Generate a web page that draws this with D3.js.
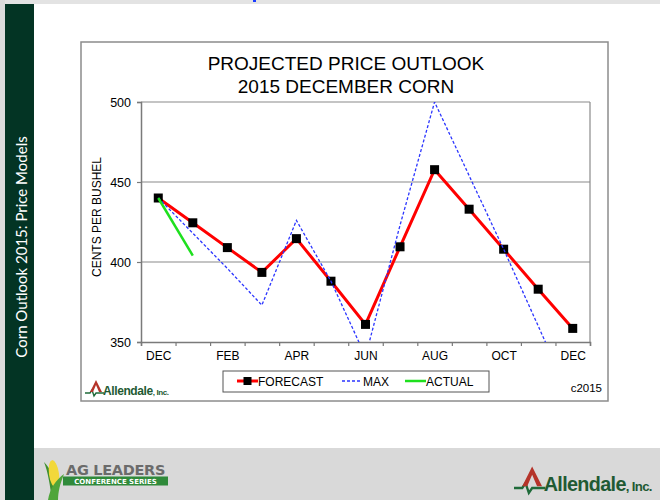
<!DOCTYPE html>
<html>
<head>
<meta charset="utf-8">
<script src="https://cdn.jsdelivr.net/npm/d3@7"></script>
<style>
  html, body { margin: 0; padding: 0; background: #fff; }
  svg { display: block; }
</style>
</head>
<body>
<script>
// chart values
var months = ["DEC", "JAN", "FEB", "MAR", "APR", "MAY", "JUN", "JUL", "AUG", "SEP", "OCT", "NOV", "DEC"];
var forecast = [440, 424.5, 409, 393.5, 414.6, 388, 361, 409.5, 457.7, 433, 408, 383, 358.5];
var maxPrice = [440, 418, 396, 373, 426, 388, 341, 423, 500, 454, 408, 360, 312];
var actual = [440, 404];
var yTicks = [350, 400, 450, 500];
var legendItems = ["FORECAST", "MAX", "ACTUAL"];

var width = 660, height = 500;
var svg = d3.select("body").append("svg")
    .attr("width", width)
    .attr("height", height);

var arial = "'Liberation Sans', Arial, sans-serif";

// slide background pieces
svg.append("rect").attr("x", 0).attr("y", 0).attr("width", width).attr("height", height).attr("fill", "#fff");
svg.append("rect").attr("x", 0).attr("y", 0).attr("width", width).attr("height", 4).attr("fill", "#e3e3e3");
svg.append("rect").attr("x", 0).attr("y", 0).attr("width", 5).attr("height", height).attr("fill", "#dcdcdc");
svg.append("rect").attr("x", 253).attr("y", 0).attr("width", 3).attr("height", 2).attr("fill", "#1a3cff");
svg.append("rect").attr("x", 34).attr("y", 448).attr("width", width - 34).attr("height", 52).attr("fill", "#d9d9d9");
svg.append("rect").attr("x", 5).attr("y", 4).attr("width", 29).attr("height", height - 4).attr("fill", "#033424");

svg.append("text")
    .attr("transform", "translate(21,247) rotate(-90)")
    .attr("text-anchor", "middle")
    .attr("dominant-baseline", "central")
    .attr("fill", "#fff")
    .style("font-family", "Lato, 'Open Sans', sans-serif")
    .style("font-size", "15px")
    .text("Corn Outlook 2015: Price Models");

// chart frame
svg.append("rect")
    .attr("x", 81).attr("y", 42).attr("width", 527).attr("height", 359)
    .attr("fill", "#fff").attr("stroke", "#8c8c8c").attr("stroke-width", 1.5);

var title = svg.append("text")
    .attr("text-anchor", "middle")
    .attr("fill", "#000")
    .style("font-family", arial)
    .style("font-size", "19px");
title.append("tspan").attr("x", 346).attr("y", 70).text("PROJECTED PRICE OUTLOOK");
title.append("tspan").attr("x", 346).attr("y", 93).text("2015 DECEMBER CORN");

// plot area
var pLeft = 141, pRight = 590, pTop = 102, pBottom = 342;

var x = d3.scaleLinear().domain([0, months.length]).range([pLeft, pRight]);
var y = d3.scaleLinear().domain([350, 500]).range([pBottom, pTop]);

svg.append("clipPath").attr("id", "plotclip")
  .append("rect").attr("x", pLeft).attr("y", pTop).attr("width", pRight - pLeft).attr("height", pBottom - pTop);

svg.append("g")
    .selectAll("line")
    .data(yTicks.slice(1))
    .enter().append("line")
    .attr("x1", pLeft).attr("x2", pRight)
    .attr("y1", function(d) { return y(d); })
    .attr("y2", function(d) { return y(d); })
    .attr("stroke", "#8a8a8a").attr("stroke-width", 1.2);

svg.append("line").attr("x1", pRight).attr("x2", pRight).attr("y1", pTop).attr("y2", pBottom)
    .attr("stroke", "#8a8a8a").attr("stroke-width", 1.2);

var yAxis = svg.append("g")
    .attr("transform", "translate(" + pLeft + ",0)")
    .call(d3.axisLeft(y).tickValues(yTicks).tickSize(4).tickPadding(6).tickFormat(d3.format("d")));
yAxis.select(".domain").attr("stroke", "#7a7a7a").attr("stroke-width", 1.5);
yAxis.selectAll(".tick line").attr("stroke", "#7a7a7a").attr("stroke-width", 1.2);
yAxis.selectAll("text").style("font-family", arial).style("font-size", "12.5px").attr("fill", "#000");

var xAxis = svg.append("g")
    .attr("transform", "translate(0," + pBottom + ")")
    .call(d3.axisBottom(x).tickValues(d3.range(months.length + 1)).tickSize(4).tickFormat(""));
xAxis.select(".domain").attr("stroke", "#7a7a7a").attr("stroke-width", 1.5);
xAxis.selectAll(".tick line").attr("stroke", "#7a7a7a").attr("stroke-width", 1.2);

var xLabels = svg.append("g")
    .attr("transform", "translate(0," + pBottom + ")")
    .call(d3.axisBottom(x)
        .tickValues(d3.range(0, months.length, 2).map(function(i) { return i + 0.5; }))
        .tickSize(0).tickPadding(9)
        .tickFormat(function(d) { return months[Math.floor(d)]; }));
xLabels.select(".domain").remove();
xLabels.selectAll("text").style("font-family", arial).style("font-size", "12px").attr("fill", "#000");

svg.append("text")
    .attr("transform", "translate(97,217) rotate(-90)")
    .attr("text-anchor", "middle")
    .attr("dominant-baseline", "central")
    .style("font-family", arial)
    .style("font-size", "12px")
    .text("CENTS PER BUSHEL");

// series
var line = d3.line()
    .x(function(d, i) { return x(i + 0.5); })
    .y(function(d) { return y(d); });

var series = svg.append("g").attr("clip-path", "url(#plotclip)");

series.append("path")
    .datum(forecast)
    .attr("d", line)
    .attr("fill", "none").attr("stroke", "#ff0000").attr("stroke-width", 3);

series.selectAll("rect.mark")
    .data(forecast)
    .enter().append("rect")
    .attr("class", "mark")
    .attr("x", function(d, i) { return x(i + 0.5) - 4.5; })
    .attr("y", function(d) { return y(d) - 4.5; })
    .attr("width", 9).attr("height", 9)
    .attr("fill", "#000");

series.append("path")
    .datum(maxPrice)
    .attr("d", line)
    .attr("fill", "none").attr("stroke", "#2b35ff").attr("stroke-width", 1.3)
    .attr("stroke-dasharray", "3,2");

series.append("path")
    .datum(actual)
    .attr("d", line)
    .attr("fill", "none").attr("stroke", "#1ee01e").attr("stroke-width", 2.5);

// legend
var legend = svg.append("g");
legend.append("rect")
    .attr("x", 223).attr("y", 371).attr("width", 266).attr("height", 21)
    .attr("fill", "#fff").attr("stroke", "#555").attr("stroke-width", 1);

var legendX = [237, 342, 405];
legendItems.forEach(function(name, i) {
    var gx = legendX[i], gy = 381;
    if (i === 0) {
        legend.append("line").attr("x1", gx).attr("x2", gx + 21).attr("y1", gy).attr("y2", gy)
            .attr("stroke", "#ff0000").attr("stroke-width", 3);
        legend.append("rect").attr("x", gx + 6.5).attr("y", gy - 4).attr("width", 8).attr("height", 8).attr("fill", "#000");
    } else if (i === 1) {
        legend.append("line").attr("x1", gx).attr("x2", gx + 20).attr("y1", gy).attr("y2", gy)
            .attr("stroke", "#2b35ff").attr("stroke-width", 1.3).attr("stroke-dasharray", "3,2");
    } else {
        legend.append("line").attr("x1", gx).attr("x2", gx + 21).attr("y1", gy).attr("y2", gy)
            .attr("stroke", "#1ee01e").attr("stroke-width", 2.5);
    }
    legend.append("text")
        .attr("x", gx + 21).attr("y", gy + 4.5)
        .style("font-family", arial).style("font-size", "12px")
        .text(name);
});

svg.append("text")
    .attr("x", 602).attr("y", 392)
    .attr("text-anchor", "end")
    .style("font-family", arial).style("font-size", "11.5px")
    .text("c2015");

// Allendale logo
function drawAllendale(g) {
    g.append("path")
        .attr("d", "M0,0 H5 L7,-3 L9,3 L11,0 H19")
        .attr("fill", "none").attr("stroke", "#1f6b3a").attr("stroke-width", 1.4);
    g.append("path")
        .attr("d", "M5,-1 L11,-13 L17,-1 L14,-1 L11,-8 L8,-1 Z")
        .attr("fill", "#b5342a");
    var t = g.append("text")
        .attr("x", 18).attr("y", 2)
        .attr("fill", "#1f5a33")
        .style("font-family", "'Liberation Sans Narrow', 'Liberation Sans', sans-serif")
        .style("font-weight", "bold")
        .style("font-size", "12px")
        .style("letter-spacing", "-0.4px");
    t.append("tspan").text("Allendale");
    t.append("tspan").style("font-size", "8px").text(", Inc.");
}
drawAllendale(svg.append("g").attr("transform", "translate(85,393)"));
drawAllendale(svg.append("g").attr("transform", "translate(514,488) scale(1.65)"));

// AG Leaders logo
var ag = svg.append("g");
ag.append("path")
    .attr("d", "M44,462 C52,470 56,482 58,500 L52,500 C50,485 48,472 44,462 Z")
    .attr("fill", "#3f8f2e");
ag.append("ellipse")
    .attr("cx", 54).attr("cy", 474).attr("rx", 5).attr("ry", 14)
    .attr("transform", "rotate(-8,54,474)")
    .attr("fill", "#f2d83a");
ag.append("path")
    .attr("d", "M48,500 C50,488 56,480 64,474 C60,484 58,492 58,500 Z")
    .attr("fill", "#4fa53a");
ag.append("text")
    .attr("x", 66).attr("y", 475)
    .attr("fill", "#6b6b6b")
    .style("font-family", "'DejaVu Sans', sans-serif")
    .style("font-weight", "bold")
    .style("font-size", "14.5px")
    .style("letter-spacing", "-0.3px")
    .text("AG LEADERS");
ag.append("rect")
    .attr("x", 63).attr("y", 476.5).attr("width", 105).attr("height", 9)
    .attr("fill", "#2f8a3a");
ag.append("text")
    .attr("x", 115.5).attr("y", 484)
    .attr("text-anchor", "middle")
    .attr("fill", "#fff")
    .style("font-family", "'DejaVu Sans', sans-serif")
    .style("font-weight", "bold")
    .style("font-size", "7px")
    .text("CONFERENCE SERIES");
</script>
</body>
</html>
